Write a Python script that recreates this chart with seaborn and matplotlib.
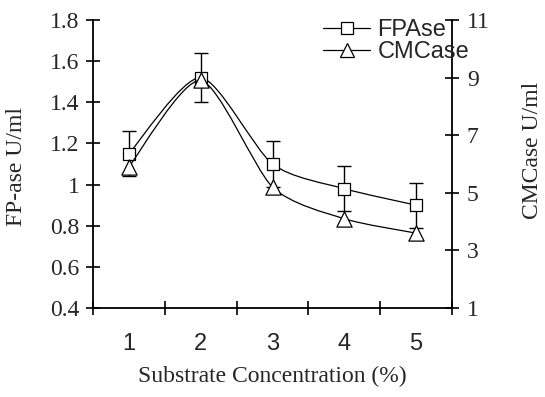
import numpy as np
import matplotlib
matplotlib.use("Agg")
import matplotlib.pyplot as plt
import seaborn as sns
import pandas as pd
from matplotlib.path import Path
from matplotlib.patches import PathPatch
from matplotlib.lines import Line2D
from matplotlib.ticker import FuncFormatter, FixedLocator

# ---- data ----
conc = [1, 2, 3, 4, 5]
fpase = [1.15, 1.52, 1.10, 0.98, 0.90]
fpase_err = [0.11, 0.12, 0.11, 0.11, 0.11]
cmcase = [5.9, 8.9, 5.2, 4.1, 3.6]
left_ticks = [0.4, 0.6, 0.8, 1.0, 1.2, 1.4, 1.6, 1.8]
right_ticks = [1, 3, 5, 7, 9, 11]

df = pd.DataFrame({"conc": conc, "fpase": fpase, "cmcase": cmcase})

sns.set_style("white")
plt.rcParams["font.family"] = ["Liberation Serif", "DejaVu Serif"]

SERIF = "Liberation Serif"
SANS = "Liberation Sans"
FS = 17

fig = plt.figure(figsize=(5.45, 3.97), dpi=100)
ax = fig.add_axes([93 / 545, 1 - 308 / 397, (452 - 93) / 545, 288 / 397])
ax2 = ax.twinx()


def smooth_path(xs, ys, k=8.0):
    pts = np.column_stack([xs, ys]).astype(float)
    ext = np.vstack([pts[0], pts, pts[-1]])
    verts = [pts[0]]
    codes = [Path.MOVETO]
    for i in range(len(pts) - 1):
        p0, p1, p2, p3 = ext[i], ext[i + 1], ext[i + 2], ext[i + 3]
        verts += [p1 + (p2 - p0) / k, p2 - (p3 - p1) / k, p2]
        codes += [Path.CURVE4] * 3
    return Path(verts, codes)


LW = 0.9
# FPAse on left axis
ax.add_patch(PathPatch(smooth_path(df["conc"], df["fpase"]), fill=False,
                       ec="black", lw=LW, transform=ax.transData, zorder=2))
ax.errorbar(df["conc"], df["fpase"], yerr=fpase_err, fmt="none", ecolor="black",
            elinewidth=1.0, capsize=5, capthick=1.0, zorder=3)
sns.scatterplot(data=df, x="conc", y="fpase", ax=ax, marker="s", s=85,
                facecolor="white", edgecolor="black", linewidth=0.9, zorder=4,
                legend=False)

# CMCase on right axis
ax2.add_patch(PathPatch(smooth_path(df["conc"], df["cmcase"]), fill=False,
                        ec="black", lw=LW, transform=ax2.transData, zorder=2))
sns.scatterplot(data=df, x="conc", y="cmcase", ax=ax2, marker="^", s=120,
                facecolor="white", edgecolor="black", linewidth=0.9, zorder=4,
                legend=False)

# ---- axes ----
ax.set_xlim(0.5, 5.5)
ax.set_ylim(0.4, 1.8)
ax2.set_ylim(1, 11)

ax.xaxis.set_major_locator(FixedLocator(conc))
ax.xaxis.set_minor_locator(FixedLocator([0.5, 1.5, 2.5, 3.5, 4.5, 5.5]))
ax.set_xticklabels([str(c) for c in conc], fontfamily=SANS, fontsize=FS)
ax.tick_params(axis="x", which="major", length=0, pad=18)
ax.tick_params(axis="x", which="minor", direction="inout", length=9.5,
               width=1.2, color="black", bottom=True)

ax.yaxis.set_major_locator(FixedLocator(left_ticks))
ax.yaxis.set_major_formatter(FuncFormatter(lambda v, p: f"{v:g}"))
ax.tick_params(axis="y", direction="inout", length=9.5, width=1.2, pad=5,
               labelsize=FS, color="black", left=True)
for t in ax.get_yticklabels():
    t.set_fontfamily(SERIF)

ax2.yaxis.set_major_locator(FixedLocator(right_ticks))
ax2.tick_params(axis="y", direction="inout", length=9.5, width=1.2, pad=6,
                labelsize=FS, color="black", right=True)
for t in ax2.get_yticklabels():
    t.set_fontfamily(SERIF)

for a in (ax, ax2):
    for s in a.spines.values():
        s.set_color("black")
        s.set_linewidth(1.3)
    a.spines["top"].set_visible(False)
ax.spines["right"].set_visible(False)
ax2.spines["left"].set_visible(False)
ax2.spines["bottom"].set_visible(False)

ax.set_xlabel("Substrate Concentration (%)", fontfamily=SERIF, fontsize=FS,
              labelpad=8)
ax.set_ylabel("FP-ase U/ml", fontfamily=SERIF, fontsize=FS, va="center")
ax.yaxis.set_label_coords(-0.212, 0.49)
ax2.set_ylabel("CMCase U/ml", fontfamily=SERIF, fontsize=FS, va="center",
               rotation=90)
ax2.yaxis.set_label_coords(1.223, 0.549)

handles = [
    Line2D([], [], color="black", lw=LW, marker="s", markersize=9.2,
           markerfacecolor="white", markeredgecolor="black", markeredgewidth=0.9),
    Line2D([], [], color="black", lw=LW, marker="^", markersize=10.5,
           markerfacecolor="white", markeredgecolor="black", markeredgewidth=0.9),
]
leg = ax2.legend(handles, ["FPAse", "CMCase"], loc="upper left",
                 bbox_to_anchor=(323 / 545, 1 - 19 / 397),
                 bbox_transform=fig.transFigure, frameon=False, borderpad=0,
                 borderaxespad=0, handlelength=2.0, handletextpad=0.3,
                 labelspacing=0.0, prop={"family": SANS, "size": FS})
leg.set_zorder(10)

fig.savefig("out.png", dpi=100)
